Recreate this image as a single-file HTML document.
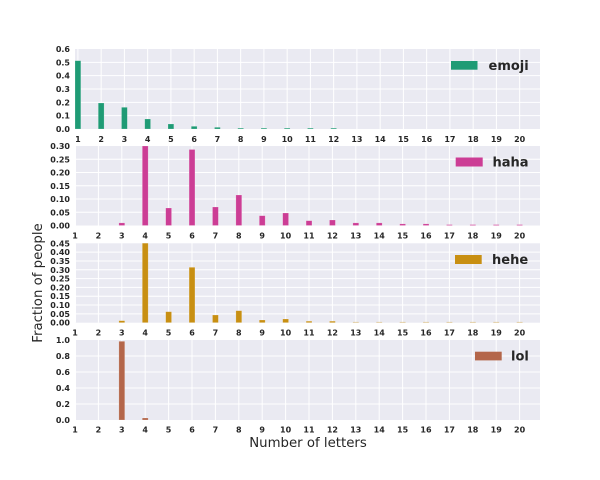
<!DOCTYPE html>
<html><head><meta charset="utf-8"><style>
html,body{margin:0;padding:0;background:#fff;}
svg{display:block;}
.t{font-family:"DejaVu Sans","Liberation Sans",sans-serif;font-size:8px;font-weight:bold;fill:#262626;}
.yl{text-anchor:end;}
.xl{text-anchor:middle;}
.lg{font-family:"DejaVu Sans","Liberation Sans",sans-serif;font-size:13px;font-weight:bold;fill:#262626;}
.ax{font-family:"DejaVu Sans","Liberation Sans",sans-serif;font-size:13.3px;fill:#262626;}
.g line{stroke:#fff;stroke-width:1;}
</style></head><body>
<svg width="600" height="480" viewBox="0 0 600 480" xmlns="http://www.w3.org/2000/svg">
<defs>
<clipPath id="c1"><rect x="75" y="49" width="465" height="80"/></clipPath>
<clipPath id="c2"><rect x="75" y="146" width="465" height="79.5"/></clipPath>
<clipPath id="c3"><rect x="75" y="243.3" width="465" height="79.4"/></clipPath>
<clipPath id="c4"><rect x="75" y="340" width="465" height="80"/></clipPath>
</defs>

<!-- ===== Panel 1: emoji ===== -->
<rect x="75" y="49" width="465" height="80" fill="#eaeaf2"/>
<g class="g">
<line x1="75" x2="540" y1="115.67" y2="115.67"/><line x1="75" x2="540" y1="102.33" y2="102.33"/><line x1="75" x2="540" y1="89" y2="89"/><line x1="75" x2="540" y1="75.67" y2="75.67"/><line x1="75" x2="540" y1="62.33" y2="62.33"/>
<line y1="49" y2="129" x1="77.91" x2="77.91"/><line y1="49" y2="129" x1="101.16" x2="101.16"/><line y1="49" y2="129" x1="124.41" x2="124.41"/><line y1="49" y2="129" x1="147.66" x2="147.66"/><line y1="49" y2="129" x1="170.91" x2="170.91"/><line y1="49" y2="129" x1="194.16" x2="194.16"/><line y1="49" y2="129" x1="217.41" x2="217.41"/><line y1="49" y2="129" x1="240.66" x2="240.66"/><line y1="49" y2="129" x1="263.91" x2="263.91"/><line y1="49" y2="129" x1="287.16" x2="287.16"/><line y1="49" y2="129" x1="310.41" x2="310.41"/><line y1="49" y2="129" x1="333.66" x2="333.66"/><line y1="49" y2="129" x1="356.91" x2="356.91"/><line y1="49" y2="129" x1="380.16" x2="380.16"/><line y1="49" y2="129" x1="403.41" x2="403.41"/><line y1="49" y2="129" x1="426.66" x2="426.66"/><line y1="49" y2="129" x1="449.91" x2="449.91"/><line y1="49" y2="129" x1="473.16" x2="473.16"/><line y1="49" y2="129" x1="496.41" x2="496.41"/><line y1="49" y2="129" x1="519.66" x2="519.66"/>
</g>
<g clip-path="url(#c1)" fill="#1f9b75" stroke="#ffffff" stroke-opacity="0.3" stroke-width="0.6">
<rect x="75.01" y="60.7" width="5.8" height="68.3"/>
<rect x="98.26" y="103" width="5.8" height="26"/>
<rect x="121.51" y="107.3" width="5.8" height="21.7"/>
<rect x="144.76" y="119" width="5.8" height="10"/>
<rect x="168.01" y="124" width="5.8" height="5"/>
<rect x="191.26" y="126.3" width="5.8" height="2.7"/>
<rect x="214.51" y="127.3" width="5.8" height="1.7"/>
<rect x="237.76" y="128.1" width="5.8" height="0.9"/>
<rect x="261.01" y="128.1" width="5.8" height="0.9"/>
<rect x="284.26" y="128.1" width="5.8" height="0.9"/>
<rect x="307.51" y="128.1" width="5.8" height="0.9"/>
<rect x="330.76" y="128.1" width="5.8" height="0.9"/>
</g>
<g class="t yl">
<text x="70" y="132">0.0</text><text x="70" y="118.67">0.1</text><text x="70" y="105.33">0.2</text><text x="70" y="92">0.3</text><text x="70" y="78.67">0.4</text><text x="70" y="65.33">0.5</text><text x="70" y="52">0.6</text>
</g>
<g class="t xl">
<text x="77.91" y="142">1</text><text x="101.16" y="142">2</text><text x="124.41" y="142">3</text><text x="147.66" y="142">4</text><text x="170.91" y="142">5</text><text x="194.16" y="142">6</text><text x="217.41" y="142">7</text><text x="240.66" y="142">8</text><text x="263.91" y="142">9</text><text x="287.16" y="142">10</text><text x="310.41" y="142">11</text><text x="333.66" y="142">12</text><text x="356.91" y="142">13</text><text x="380.16" y="142">14</text><text x="403.41" y="142">15</text><text x="426.66" y="142">16</text><text x="449.91" y="142">17</text><text x="473.16" y="142">18</text><text x="496.41" y="142">19</text><text x="519.66" y="142">20</text>
</g>
<rect x="451" y="61" width="26.5" height="8.7" fill="#1f9b75"/>
<text class="lg" x="488.5" y="70">emoji</text>

<!-- ===== Panel 2: haha ===== -->
<rect x="75" y="146" width="465" height="79.5" fill="#eaeaf2"/>
<g class="g">
<line x1="75" x2="540" y1="212.25" y2="212.25"/><line x1="75" x2="540" y1="199" y2="199"/><line x1="75" x2="540" y1="185.75" y2="185.75"/><line x1="75" x2="540" y1="172.5" y2="172.5"/><line x1="75" x2="540" y1="159.25" y2="159.25"/>
<line y1="146" y2="225.5" x1="75.5" x2="75.5"/><line y1="146" y2="225.5" x1="98.4" x2="98.4"/><line y1="146" y2="225.5" x1="121.8" x2="121.8"/><line y1="146" y2="225.5" x1="145.2" x2="145.2"/><line y1="146" y2="225.5" x1="168.6" x2="168.6"/><line y1="146" y2="225.5" x1="192" x2="192"/><line y1="146" y2="225.5" x1="215.4" x2="215.4"/><line y1="146" y2="225.5" x1="238.8" x2="238.8"/><line y1="146" y2="225.5" x1="262.2" x2="262.2"/><line y1="146" y2="225.5" x1="285.6" x2="285.6"/><line y1="146" y2="225.5" x1="309" x2="309"/><line y1="146" y2="225.5" x1="332.4" x2="332.4"/><line y1="146" y2="225.5" x1="355.8" x2="355.8"/><line y1="146" y2="225.5" x1="379.2" x2="379.2"/><line y1="146" y2="225.5" x1="402.6" x2="402.6"/><line y1="146" y2="225.5" x1="426" x2="426"/><line y1="146" y2="225.5" x1="449.4" x2="449.4"/><line y1="146" y2="225.5" x1="472.8" x2="472.8"/><line y1="146" y2="225.5" x1="496.2" x2="496.2"/><line y1="146" y2="225.5" x1="519.6" x2="519.6"/>
</g>
<g clip-path="url(#c2)" fill="#cc3d95" stroke="#ffffff" stroke-opacity="0.3" stroke-width="0.6">
<rect x="118.9" y="222.9" width="5.85" height="2.6"/>
<rect x="142.3" y="146" width="5.85" height="79.5"/>
<rect x="165.7" y="208" width="5.85" height="17.5"/>
<rect x="189.1" y="149.5" width="5.85" height="76"/>
<rect x="212.5" y="207" width="5.85" height="18.5"/>
<rect x="235.9" y="195" width="5.85" height="30.5"/>
<rect x="259.3" y="215.7" width="5.85" height="9.8"/>
<rect x="282.7" y="213" width="5.85" height="12.5"/>
<rect x="306.1" y="220.7" width="5.85" height="4.8"/>
<rect x="329.5" y="220" width="5.85" height="5.5"/>
<rect x="352.9" y="222.9" width="5.85" height="2.6"/>
<rect x="376.3" y="222.9" width="5.85" height="2.6"/>
<rect x="399.7" y="223.9" width="5.85" height="1.6"/>
<rect x="423.1" y="223.9" width="5.85" height="1.6"/>
<rect x="446.5" y="224.6" width="5.85" height="0.9"/>
<rect x="469.9" y="224.6" width="5.85" height="0.9"/>
<rect x="493.3" y="224.6" width="5.85" height="0.9"/>
<rect x="516.7" y="224.6" width="5.85" height="0.9"/>
</g>
<g class="t yl">
<text x="70" y="228.5">0.00</text><text x="70" y="215.25">0.05</text><text x="70" y="202">0.10</text><text x="70" y="188.75">0.15</text><text x="70" y="175.5">0.20</text><text x="70" y="162.25">0.25</text><text x="70" y="149">0.30</text>
</g>
<g class="t xl">
<text x="75" y="238.3">1</text><text x="98.4" y="238.3">2</text><text x="121.8" y="238.3">3</text><text x="145.2" y="238.3">4</text><text x="168.6" y="238.3">5</text><text x="192" y="238.3">6</text><text x="215.4" y="238.3">7</text><text x="238.8" y="238.3">8</text><text x="262.2" y="238.3">9</text><text x="285.6" y="238.3">10</text><text x="309" y="238.3">11</text><text x="332.4" y="238.3">12</text><text x="355.8" y="238.3">13</text><text x="379.2" y="238.3">14</text><text x="402.6" y="238.3">15</text><text x="426" y="238.3">16</text><text x="449.4" y="238.3">17</text><text x="472.8" y="238.3">18</text><text x="496.2" y="238.3">19</text><text x="519.6" y="238.3">20</text>
</g>
<rect x="455.7" y="157.5" width="27" height="9" fill="#cc3d95"/>
<text class="lg" x="492.5" y="166.7">haha</text>

<!-- ===== Panel 3: hehe ===== -->
<rect x="75" y="243.3" width="465" height="79.4" fill="#eaeaf2"/>
<g class="g">
<line x1="75" x2="540" y1="313.88" y2="313.88"/><line x1="75" x2="540" y1="305.06" y2="305.06"/><line x1="75" x2="540" y1="296.23" y2="296.23"/><line x1="75" x2="540" y1="287.41" y2="287.41"/><line x1="75" x2="540" y1="278.59" y2="278.59"/><line x1="75" x2="540" y1="269.77" y2="269.77"/><line x1="75" x2="540" y1="260.94" y2="260.94"/><line x1="75" x2="540" y1="252.12" y2="252.12"/>
<line y1="243.3" y2="322.7" x1="75.5" x2="75.5"/><line y1="243.3" y2="322.7" x1="98.4" x2="98.4"/><line y1="243.3" y2="322.7" x1="121.8" x2="121.8"/><line y1="243.3" y2="322.7" x1="145.2" x2="145.2"/><line y1="243.3" y2="322.7" x1="168.6" x2="168.6"/><line y1="243.3" y2="322.7" x1="192" x2="192"/><line y1="243.3" y2="322.7" x1="215.4" x2="215.4"/><line y1="243.3" y2="322.7" x1="238.8" x2="238.8"/><line y1="243.3" y2="322.7" x1="262.2" x2="262.2"/><line y1="243.3" y2="322.7" x1="285.6" x2="285.6"/><line y1="243.3" y2="322.7" x1="309" x2="309"/><line y1="243.3" y2="322.7" x1="332.4" x2="332.4"/><line y1="243.3" y2="322.7" x1="355.8" x2="355.8"/><line y1="243.3" y2="322.7" x1="379.2" x2="379.2"/><line y1="243.3" y2="322.7" x1="402.6" x2="402.6"/><line y1="243.3" y2="322.7" x1="426" x2="426"/><line y1="243.3" y2="322.7" x1="449.4" x2="449.4"/><line y1="243.3" y2="322.7" x1="472.8" x2="472.8"/><line y1="243.3" y2="322.7" x1="496.2" x2="496.2"/><line y1="243.3" y2="322.7" x1="519.6" x2="519.6"/>
</g>
<g clip-path="url(#c3)" fill="#c88f12" stroke="#ffffff" stroke-opacity="0.3" stroke-width="0.6">
<rect x="118.9" y="320.7" width="5.85" height="2"/>
<rect x="142.3" y="243" width="5.85" height="79.7"/>
<rect x="165.7" y="311.7" width="5.85" height="11"/>
<rect x="189.1" y="267.3" width="5.85" height="55.4"/>
<rect x="212.5" y="315" width="5.85" height="7.7"/>
<rect x="235.9" y="310.7" width="5.85" height="12"/>
<rect x="259.3" y="320" width="5.85" height="2.7"/>
<rect x="282.7" y="319" width="5.85" height="3.7"/>
<rect x="306.1" y="321.2" width="5.85" height="1.5"/>
<rect x="329.5" y="321.2" width="5.85" height="1.5"/>
</g>
<g fill="#c88f12" opacity="0.45">
<rect x="352.9" y="321.9" width="5.85" height="0.8"/><rect x="376.3" y="321.9" width="5.85" height="0.8"/><rect x="399.7" y="321.9" width="5.85" height="0.8"/><rect x="423.1" y="321.9" width="5.85" height="0.8"/><rect x="446.5" y="321.9" width="5.85" height="0.8"/><rect x="469.9" y="321.9" width="5.85" height="0.8"/><rect x="493.3" y="321.9" width="5.85" height="0.8"/><rect x="516.7" y="321.9" width="5.85" height="0.8"/>
</g>
<g class="t yl">
<text x="70" y="325.7">0.00</text><text x="70" y="316.88">0.05</text><text x="70" y="308.06">0.10</text><text x="70" y="299.23">0.15</text><text x="70" y="290.41">0.20</text><text x="70" y="281.59">0.25</text><text x="70" y="272.77">0.30</text><text x="70" y="263.94">0.35</text><text x="70" y="255.12">0.40</text><text x="70" y="246.3">0.45</text>
</g>
<g class="t xl">
<text x="75" y="335.4">1</text><text x="98.4" y="335.4">2</text><text x="121.8" y="335.4">3</text><text x="145.2" y="335.4">4</text><text x="168.6" y="335.4">5</text><text x="192" y="335.4">6</text><text x="215.4" y="335.4">7</text><text x="238.8" y="335.4">8</text><text x="262.2" y="335.4">9</text><text x="285.6" y="335.4">10</text><text x="309" y="335.4">11</text><text x="332.4" y="335.4">12</text><text x="355.8" y="335.4">13</text><text x="379.2" y="335.4">14</text><text x="402.6" y="335.4">15</text><text x="426" y="335.4">16</text><text x="449.4" y="335.4">17</text><text x="472.8" y="335.4">18</text><text x="496.2" y="335.4">19</text><text x="519.6" y="335.4">20</text>
</g>
<rect x="455" y="255" width="26.7" height="9" fill="#c88f12"/>
<text class="lg" x="492" y="264.2">hehe</text>

<!-- ===== Panel 4: lol ===== -->
<rect x="75" y="340" width="465" height="80" fill="#eaeaf2"/>
<g class="g">
<line x1="75" x2="540" y1="404" y2="404"/><line x1="75" x2="540" y1="388" y2="388"/><line x1="75" x2="540" y1="372" y2="372"/><line x1="75" x2="540" y1="356" y2="356"/>
<line y1="340" y2="420" x1="75.5" x2="75.5"/><line y1="340" y2="420" x1="98.4" x2="98.4"/><line y1="340" y2="420" x1="121.8" x2="121.8"/><line y1="340" y2="420" x1="145.2" x2="145.2"/><line y1="340" y2="420" x1="168.6" x2="168.6"/><line y1="340" y2="420" x1="192" x2="192"/><line y1="340" y2="420" x1="215.4" x2="215.4"/><line y1="340" y2="420" x1="238.8" x2="238.8"/><line y1="340" y2="420" x1="262.2" x2="262.2"/><line y1="340" y2="420" x1="285.6" x2="285.6"/><line y1="340" y2="420" x1="309" x2="309"/><line y1="340" y2="420" x1="332.4" x2="332.4"/><line y1="340" y2="420" x1="355.8" x2="355.8"/><line y1="340" y2="420" x1="379.2" x2="379.2"/><line y1="340" y2="420" x1="402.6" x2="402.6"/><line y1="340" y2="420" x1="426" x2="426"/><line y1="340" y2="420" x1="449.4" x2="449.4"/><line y1="340" y2="420" x1="472.8" x2="472.8"/><line y1="340" y2="420" x1="496.2" x2="496.2"/><line y1="340" y2="420" x1="519.6" x2="519.6"/>
</g>
<g clip-path="url(#c4)" fill="#b4664a" stroke="#ffffff" stroke-opacity="0.3" stroke-width="0.6">
<rect x="118.9" y="341.3" width="5.85" height="78.7"/>
<rect x="142.3" y="418" width="5.85" height="2"/>
</g>
<g class="t yl">
<text x="70" y="423">0.0</text><text x="70" y="407">0.2</text><text x="70" y="391">0.4</text><text x="70" y="375">0.6</text><text x="70" y="359">0.8</text><text x="70" y="343">1.0</text>
</g>
<g class="t xl">
<text x="75" y="432.5">1</text><text x="98.4" y="432.5">2</text><text x="121.8" y="432.5">3</text><text x="145.2" y="432.5">4</text><text x="168.6" y="432.5">5</text><text x="192" y="432.5">6</text><text x="215.4" y="432.5">7</text><text x="238.8" y="432.5">8</text><text x="262.2" y="432.5">9</text><text x="285.6" y="432.5">10</text><text x="309" y="432.5">11</text><text x="332.4" y="432.5">12</text><text x="355.8" y="432.5">13</text><text x="379.2" y="432.5">14</text><text x="402.6" y="432.5">15</text><text x="426" y="432.5">16</text><text x="449.4" y="432.5">17</text><text x="472.8" y="432.5">18</text><text x="496.2" y="432.5">19</text><text x="519.6" y="432.5">20</text>
</g>
<rect x="475" y="351.7" width="26.7" height="8.7" fill="#b4664a"/>
<text class="lg" x="511" y="360.7">lol</text>

<!-- axis labels -->
<text class="ax" x="308" y="447" text-anchor="middle">Number of letters</text>
<text class="ax" transform="translate(42,283) rotate(-90)" text-anchor="middle">Fraction of people</text>
</svg>
</body></html>
